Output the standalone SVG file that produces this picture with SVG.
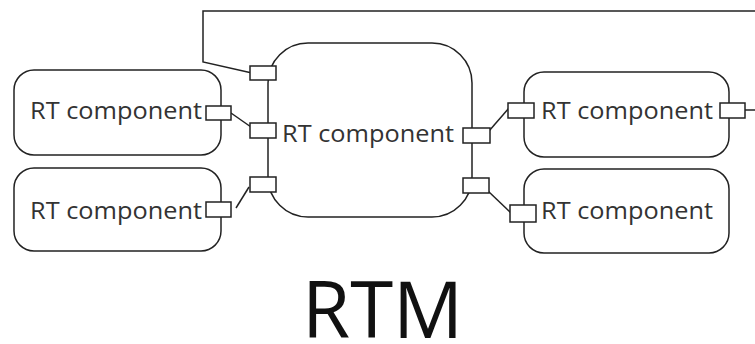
<svg xmlns="http://www.w3.org/2000/svg" width="755" height="344" viewBox="0 0 755 344">
  <style>
    .box { fill: #fff; stroke: #222; stroke-width: 1.5; }
    .port { fill: #fff; stroke: #222; stroke-width: 1.5; }
    .wire { fill: none; stroke: #222; stroke-width: 1.5; }
    .lbl { font-family: "Open Sans", "Noto Sans", sans-serif; font-size: 23px; fill: #333; }
    .title { font-family: "Open Sans", "Noto Sans", sans-serif; font-size: 78px; fill: #111; }
  </style>
  <rect width="755" height="344" fill="#fff"/>

  <g id="connectors">
    <polyline class="wire" points="755,11 203,11 203,62 252,73"/>
    <line class="wire" x1="231" y1="113" x2="251" y2="127"/>
    <line class="wire" x1="236" y1="208" x2="249" y2="187"/>
    <line class="wire" x1="489" y1="131" x2="509" y2="108"/>
    <line class="wire" x1="488" y1="191" x2="511" y2="213"/>
    <line class="wire" x1="745" y1="110" x2="755" y2="110"/>
  </g>

  <g id="rtc-left-top">
    <rect class="box" x="14" y="70" width="207" height="85" rx="20"/>
    <text class="lbl" x="30" y="119" textLength="172" lengthAdjust="spacingAndGlyphs">RT component</text>
    <rect class="port" x="206" y="106" width="25" height="14"/>
  </g>

  <g id="rtc-left-bottom">
    <rect class="box" x="14" y="168" width="207" height="83" rx="20"/>
    <text class="lbl" x="30" y="219" textLength="172" lengthAdjust="spacingAndGlyphs">RT component</text>
    <rect class="port" x="206" y="202" width="25" height="15"/>
  </g>

  <g id="rtc-center">
    <rect class="box" x="268" y="43" width="204" height="174" rx="40"/>
    <text class="lbl" x="282" y="142" textLength="172" lengthAdjust="spacingAndGlyphs">RT component</text>
    <rect class="port" x="250" y="66" width="26" height="14"/>
    <rect class="port" x="250" y="123" width="26" height="15"/>
    <rect class="port" x="250" y="177" width="26" height="15"/>
    <rect class="port" x="463" y="128" width="27" height="15"/>
    <rect class="port" x="463" y="178" width="26" height="15"/>
  </g>

  <g id="rtc-right-top">
    <rect class="box" x="524" y="72" width="205" height="85" rx="20"/>
    <text class="lbl" x="541" y="119" textLength="172" lengthAdjust="spacingAndGlyphs">RT component</text>
    <rect class="port" x="508" y="103" width="26" height="15"/>
    <rect class="port" x="720" y="103" width="25" height="15"/>
  </g>

  <g id="rtc-right-bottom">
    <rect class="box" x="524" y="169" width="205" height="84" rx="20"/>
    <text class="lbl" x="541" y="219" textLength="172" lengthAdjust="spacingAndGlyphs">RT component</text>
    <rect class="port" x="510" y="205" width="26" height="17"/>
  </g>

  <text class="title" x="302" y="338">RTM</text>
</svg>
